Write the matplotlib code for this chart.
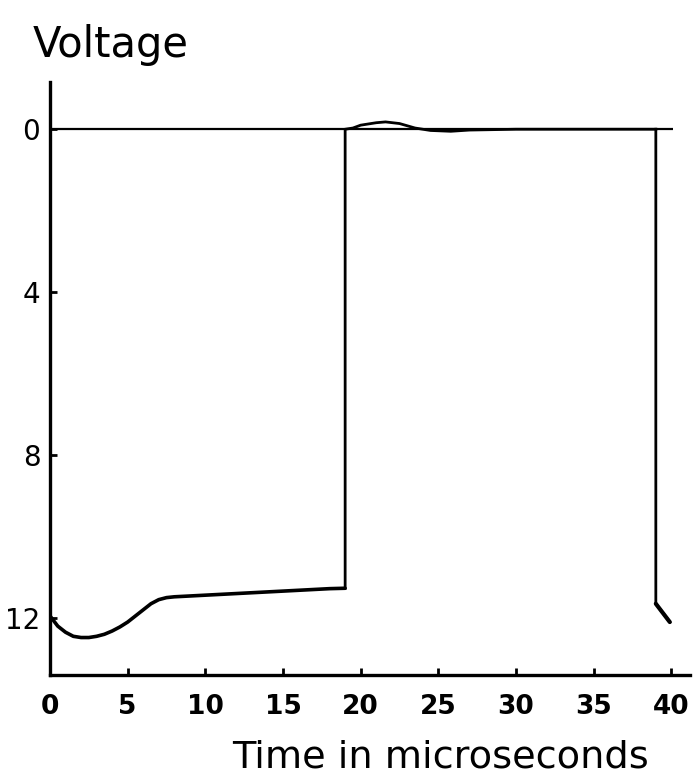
import matplotlib
matplotlib.use("Agg")
import matplotlib.pyplot as plt

# Pulse waveform (voltage magnitude, axis inverted)
t_pulse = [0, 0.5, 1, 1.5, 2, 2.5, 3, 3.5, 4, 4.5, 5, 5.5, 6, 6.5, 7, 7.5, 8,
           10, 12, 14, 16, 18, 19.0]
v_pulse = [11.95, 12.2, 12.35, 12.45, 12.48, 12.48, 12.45, 12.4, 12.32, 12.22,
           12.1, 11.95, 11.8, 11.65, 11.55, 11.5, 11.48, 11.44, 11.4, 11.36,
           11.32, 11.28, 11.27]

t_off = [19.0, 19.0, 19.5, 20, 21, 21.6, 22.5, 23.5, 24.5, 25.8, 27, 30, 35, 39.0]
v_off = [11.27, 0.0, -0.03, -0.1, -0.16, -0.18, -0.14, -0.03, 0.03, 0.05, 0.02,
         0.0, 0.0, 0.0]

t_next = [39.0, 39.0, 39.9]
v_next = [0.0, 11.65, 12.1]

baseline_t = [0, 40.1]
baseline_v = [0, 0]

x_ticks = [0, 5, 10, 15, 20, 25, 30, 35, 40]
y_ticks = [0, 4, 8, 12]

fig = plt.figure(figsize=(6.96, 7.81), dpi=100)
ax = fig.add_axes([50 / 696, 1 - 675 / 781, 640 / 696, 593 / 781])

ax.plot(baseline_t, baseline_v, color="black", lw=1.6, solid_capstyle="butt")
ax.plot(t_pulse, v_pulse, color="black", lw=2.6, solid_capstyle="round")
ax.plot(t_off, v_off, color="black", lw=2.0, solid_joinstyle="miter")
ax.plot(t_next, v_next, color="black", lw=2.0)
ax.plot(t_next[1:], v_next[1:], color="black", lw=3.0, solid_capstyle="round")

ax.set_xlim(0, 41.2)
ax.set_ylim(13.4, -1.16)

for side in ("top", "right"):
    ax.spines[side].set_visible(False)
for side in ("left", "bottom"):
    ax.spines[side].set_linewidth(2.4)

ax.set_xticks(x_ticks)
ax.set_yticks(y_ticks)
ax.tick_params(axis="x", direction="in", length=5, width=2, pad=14,
               labelsize=19)
ax.tick_params(axis="y", direction="in", length=5, width=2, pad=7,
               labelsize=20)
for lab in ax.get_xticklabels():
    lab.set_fontweight("bold")

fig.text(33 / 696, 1 - 57 / 781, "Voltage", fontsize=30, ha="left",
         va="baseline")
fig.text(232 / 696, 1 - 768 / 781, "Time in microseconds", fontsize=27.5,
         ha="left", va="baseline")

fig.savefig("out.png", dpi=100)
